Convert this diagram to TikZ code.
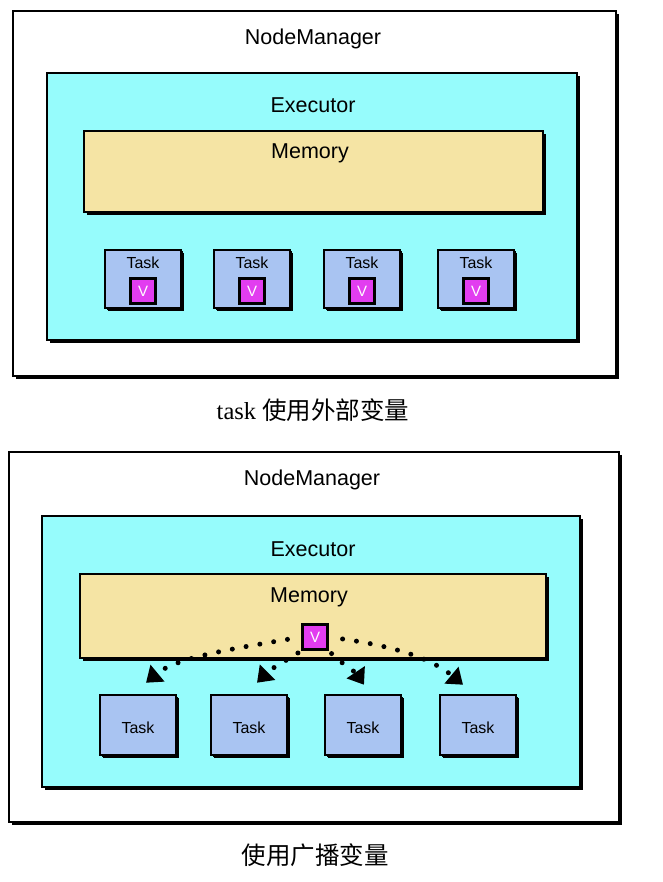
\documentclass[tikz,border=0pt]{standalone}
\usepackage{fontspec}
\setmainfont{Liberation Sans}
\newfontfamily\capfont{Liberation Serif}
\newfontfamily\cjk{Noto Sans CJK SC}
\usetikzlibrary{positioning,shadows,arrows.meta}

\definecolor{execcyan}{HTML}{96FCFC}
\definecolor{memyellow}{HTML}{F5E4A4}
\definecolor{taskblue}{HTML}{A9C4F2}
\definecolor{varpink}{HTML}{E23DF0}

\tikzset{
  box/.style={draw=black, line width=2.5pt, inner sep=0pt,
    drop shadow={shadow xshift=3pt, shadow yshift=-3pt, fill=black, opacity=1}},
  nmbox/.style={box, fill=white},
  exbox/.style={box, fill=execcyan},
  membox/.style={box, fill=memyellow},
  taskbox/.style={box, fill=taskblue, minimum width=76pt, minimum height=58pt,
    drop shadow={shadow xshift=1.5pt, shadow yshift=-1.5pt, fill=black, opacity=1}},
  varbox/.style={draw=black, line width=2.5pt, fill=varpink, minimum size=25pt,
    inner sep=0pt, text=white, font=\fontsize{15}{15}\selectfont},
  title/.style={font=\fontsize{21.5}{21.5}\selectfont},
  tasktext/.style={font=\fontsize{16}{16}\selectfont},
  caption/.style={font=\fontsize{24.5}{24.5}\selectfont},
  bcast/.style={line width=5pt, line cap=round, dash pattern=on 0pt off 14pt,
    -{Triangle[width=21pt,length=15pt]}}
}

\begin{document}
\begin{tikzpicture}[x=1pt,y=-1pt]
\useasboundingbox (0,0) rectangle (662,882);

% task uses an outside variable
\node[nmbox, minimum width=603pt, minimum height=365pt] (nm1) at (314.5,193.5) {};
\node[title] (nm1t) at (313,39) {NodeManager};
\node[exbox, minimum width=530pt, minimum height=267pt] (ex1) at (312,206.5) {};
\node[title] (ex1t) at (313,105) {Executor};
\node[membox, minimum width=459pt, minimum height=81pt] (mem1) at (313.5,171.5) {};
\node[title] (mem1t) at (310,153) {Memory};
\foreach \i/\x in {1/143,2/252,3/362,4/476} {
  \node[taskbox] (ta\i) at (\x,279) {};
  \node[tasktext] (ta\i t) at (\x,263) {Task};
  \node[varbox] (va\i) at (\x,291) {V};
}
\node[caption] (cap1) at (313,410) {\capfont task {\cjk 使用外部变量}};

% broadcast variable
\node[nmbox, minimum width=610pt, minimum height=370pt] (nm2) at (314,637) {};
\node[title] (nm2t) at (312,480) {NodeManager};
\node[exbox, minimum width=538pt, minimum height=271pt] (ex2) at (311,651.5) {};
\node[title] (ex2t) at (313,549) {Executor};
\node[membox, minimum width=466pt, minimum height=84pt] (mem2) at (313,616) {};
\node[title] (mem2t) at (309,597) {Memory};
\node[varbox] (v2) at (315,637) {V};
\foreach \i/\x in {1/138,2/249,3/363,4/478} {
  \node[taskbox, minimum height=60pt] (tb\i) at (\x,725) {};
  \node[tasktext] (tb\i t) at (\x,728) {Task};
}
\coordinate (tip1) at ([xshift=8pt,yshift=11pt]tb1.north);
\coordinate (tip2) at ([xshift=8pt,yshift=11pt]tb2.north);
\coordinate (tip3) at ([xshift=1pt,yshift=9pt]tb3.north);
\coordinate (tip4) at ([xshift=-15pt,yshift=9pt]tb4.north);
\draw[bcast, shorten <=14pt] (v2.west) .. controls +(-70,12) and +(30,-25) .. (tip1);
\draw[bcast, shorten <=4pt] (v2.south west) .. controls +(-15,10) and +(15,-15) .. (tip2);
\draw[bcast, shorten <=4pt] (v2.south east) .. controls +(12,12) and +(-8,-12) .. (tip3);
\draw[bcast, shorten <=14pt] (v2.east) .. controls +(70,10) and +(-30,-25) .. (tip4);
\node[caption] (cap2) at (315,855) {\cjk 使用广播变量};
\end{tikzpicture}
\end{document}
